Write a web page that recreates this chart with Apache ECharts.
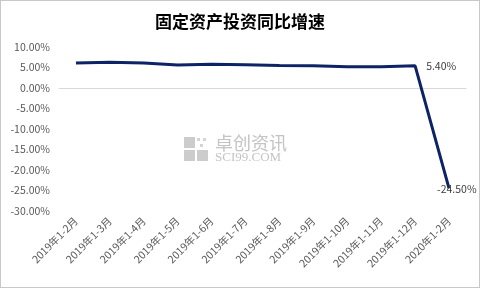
<!DOCTYPE html>
<html><head><meta charset="utf-8">
<script src="https://cdn.jsdelivr.net/npm/echarts@6/dist/echarts.min.js"></script>
<style>html,body{margin:0;padding:0;background:#fff}
#c{position:absolute;left:0;top:0;width:478px;height:286px;border:1px solid #c8c8c8}</style>
</head><body><div id="c"></div>
<script>
const categories = ['2019年1-2月','2019年1-3月','2019年1-4月','2019年1-5月','2019年1-6月','2019年1-7月','2019年1-8月','2019年1-9月','2019年1-10月','2019年1-11月','2019年1-12月','2020年1-2月'];
const growth = [6.1, 6.3, 6.1, 5.6, 5.8, 5.7, 5.5, 5.4, 5.2, 5.2, 5.4, -24.5];
const yTicks = {min: -30, max: 10, interval: 5};
const labelled = [10, 11];

const chart = echarts.init(document.getElementById('c'), null, {renderer: 'canvas'});
const fam = '"Noto Sans CJK SC", "Noto Sans", sans-serif';
chart.setOption({
  animation: false,
  title: {text: '固定资产投资同比增速', left: 'center', top: 7,
    textStyle: {fontFamily: fam, fontSize: 17, fontWeight: 'bold', color: '#000'}},
  grid: {left: 58, right: 13, top: 46, bottom: 76},
  graphic: [{
    type: 'group', left: 183, top: 133, silent: true,
    children: [
      {type: 'rect', shape: {x: 0, y: 0, width: 11, height: 11}, style: {fill: '#cccccc'}},
      {type: 'rect', shape: {x: 0, y: 13, width: 11, height: 11}, style: {fill: '#cccccc'}},
      {type: 'rect', shape: {x: 13, y: 13, width: 11, height: 11}, style: {fill: '#cccccc'}},
      {type: 'rect', shape: {x: 13, y: 1, width: 3, height: 3}, style: {fill: '#d4d4d4'}},
      {type: 'rect', shape: {x: 19, y: 1, width: 3, height: 3}, style: {fill: '#d4d4d4'}},
      {type: 'rect', shape: {x: 16, y: 7, width: 3, height: 3}, style: {fill: '#d4d4d4'}},
      {type: 'text', x: 31, y: -3, style: {text: '卓创资讯', fill: '#c4c4c4', font: '18px ' + fam}},
      {type: 'text', x: 31, y: 14, style: {text: 'SCI99.COM', fill: '#c4c4c4', font: '13px "Liberation Serif", serif'}}
    ]
  }],
  xAxis: {
    type: 'category', data: categories, boundaryGap: true,
    axisLine: {lineStyle: {color: '#d9d9d9'}},
    axisTick: {show: false},
    axisLabel: {rotate: 45, interval: 0, color: '#595959', fontSize: 10.5, fontFamily: fam, margin: 8}
  },
  yAxis: {
    type: 'value', min: yTicks.min, max: yTicks.max, interval: yTicks.interval,
    axisLine: {show: false}, axisTick: {show: false}, splitLine: {show: false},
    axisLabel: {color: '#595959', fontSize: 10.5, fontFamily: fam, margin: 9,
      formatter: v => v.toFixed(2) + '%'}
  },
  series: [{
    type: 'line', smooth: false, symbol: 'circle', symbolSize: 0, showSymbol: true,
    lineStyle: {color: '#0c2366', width: 3},
    itemStyle: {color: '#0c2366'},
    data: growth.map((v, i) => {
      if (!labelled.includes(i)) return v;
      return {value: v, label: {show: true, position: 'right',
        offset: i === 11 ? [-17, 1] : [6, 0],
        formatter: p => p.value.toFixed(2) + '%',
        color: '#404040', fontSize: 10.5, fontFamily: fam}};
    })
  }]
});
</script></body></html>
